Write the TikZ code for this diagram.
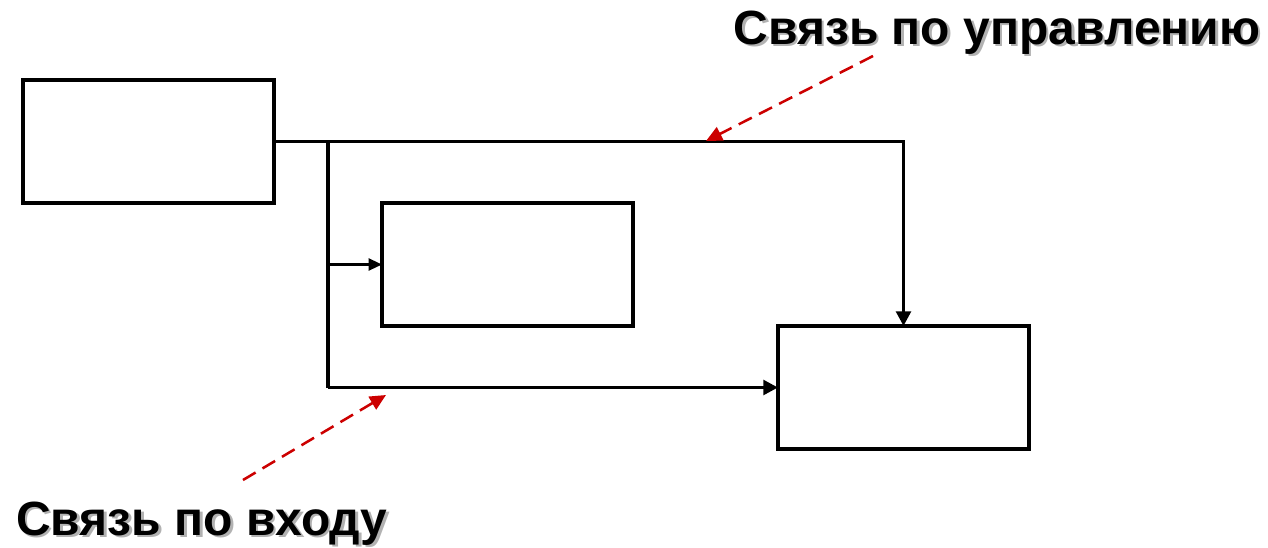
\documentclass[tikz,border=0pt]{standalone}
\usepackage{fontspec}
\setmainfont{Liberation Sans}
\usetikzlibrary{arrows.meta}
\newcommand{\shadowed}[1]{\makebox[0pt][l]{\hspace{1.9pt}\raisebox{-1.9pt}{\color{black!30}#1}}#1}
\begin{document}
\begin{tikzpicture}[x=0.75pt,y=-0.75pt,
  block/.style={draw,line width=2.6pt,minimum width=188.25pt,minimum height=92.25pt,
    inner sep=0pt,anchor=north west,outer sep=0pt},
  wire/.style={line width=2.6pt,-{Triangle[length=11pt,width=11pt]}},
  thinwire/.style={line width=1.6pt,-{Triangle[length=10pt,width=9pt]}},
  pointer/.style={draw={rgb,255:red,204;green,0;blue,0},line width=1.9pt,
    dash pattern=on 11pt off 6pt,
    -{Triangle[length=12pt,width=11pt,fill={rgb,255:red,204;green,0;blue,0}]}},
  caption/.style={font=\bfseries\fontsize{36pt}{42pt}\selectfont,anchor=base,inner sep=0pt}
]
\useasboundingbox (0,0) rectangle (1268,547);

% three blocks
\node[block] (A) at (23,80) {};
\node[block] (B) at (382,203) {};
\node[block] (C) at (778,326) {};

% junction of the trunk line
\coordinate (j) at (328,141);

% control path: top of A to the top of C
\draw[wire] (A.east) -| (C.north);
% input path: trunk down to C
\draw[line width=2.6pt] (j) -- (j |- C.west);
\draw[wire] (j |- C.west) -- (C.west);
% branch into B
\draw[thinwire] (j |- B.west) -- (B.west);

% captions with soft shadow
\node[caption] (t1) at (997,44) {\shadowed{Связь по управлению}};
\node[caption] (t2) at (202,535) {\shadowed{Связь по входу}};

% red pointers
\coordinate (p1) at (873,56);
\coordinate (h1) at (706,141);
\coordinate (p2) at (243,480);
\coordinate (h2) at (386,395);
\draw[pointer] (p1) -- (h1);
\draw[pointer] (p2) -- (h2);
\end{tikzpicture}
\end{document}
